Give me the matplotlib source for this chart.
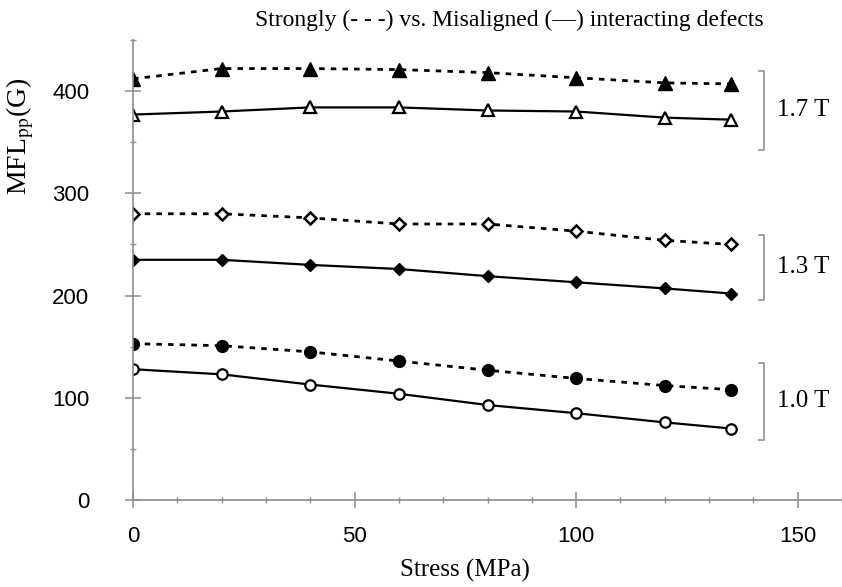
import matplotlib.pyplot as plt
from matplotlib.ticker import MultipleLocator

# -------- Data --------
stress = [0, 20, 40, 60, 80, 100, 120, 135]

strong_17 = [412, 422, 422, 421, 418, 413, 408, 407]
misal_17 = [377, 380, 384, 384, 381, 380, 374, 372]
strong_13 = [280, 280, 276, 270, 270, 263, 254, 250]
misal_13 = [235, 235, 230, 226, 219, 213, 207, 202]
strong_10 = [153, 151, 145, 136, 127, 119, 112, 108]
misal_10 = [128, 123, 113, 104, 93, 85, 76, 70]

field_labels = ["1.7 T", "1.3 T", "1.0 T"]

SERIF = "Liberation Serif"
SANS = "Liberation Sans"
plt.rcParams["mathtext.fontset"] = "stix"

fig = plt.figure(figsize=(8.42, 5.87), dpi=100)
ax = fig.add_axes([0.158, 0.148, 0.842, 0.784])

dash = dict(color="black", lw=2.0, dashes=(2, 2.2))
solid = dict(color="black", lw=1.6, linestyle="-")

# strongly interacting (dashed)
ax.plot(stress, strong_17, marker="^", ms=10.5, mfc="black", mec="black", **dash)
ax.plot(stress, strong_13, marker="D", ms=6.5, mfc="white", mec="black", mew=1.8, **dash)
ax.plot(stress, strong_10, marker="o", ms=8.5, mfc="black", mec="black", **dash)

# misaligned (solid)
ax.plot(stress, misal_17, marker="^", ms=9, mfc="white", mec="black", mew=1.6, **solid)
ax.plot(stress, misal_13, marker="D", ms=6.5, mfc="black", mec="black", **solid)
ax.plot(stress, misal_10, marker="o", ms=7.5, mfc="white", mec="black", mew=1.6, **solid)

ax.set_xlim(0, 160)
ax.set_ylim(0, 450)
ax.xaxis.set_major_locator(MultipleLocator(50))
ax.xaxis.set_minor_locator(MultipleLocator(10))
ax.yaxis.set_major_locator(MultipleLocator(100))
ax.yaxis.set_minor_locator(MultipleLocator(50))

for s in ["top", "right"]:
    ax.spines[s].set_visible(False)
for s in ["left", "bottom"]:
    ax.spines[s].set_color("#8c8c8c")
    ax.spines[s].set_linewidth(1.2)
ax.tick_params(which="major", direction="inout", length=11, width=1.1, color="#8c8c8c",
               labelsize=16)
ax.tick_params(which="minor", direction="inout", length=5, width=1.0, color="#8c8c8c")
ax.tick_params(axis="x", which="major", pad=13)
ax.tick_params(axis="y", which="major", pad=26)
for lab in ax.get_xticklabels() + ax.get_yticklabels():
    lab.set_fontfamily(SANS)

ax.set_xlabel("Stress (MPa)", fontfamily=SERIF, fontsize=18)
ax.xaxis.set_label_coords(0.468, -0.127)
ax.set_ylabel(r"MFL$_{\mathrm{pp}}$(G)", fontfamily=SERIF, fontsize=20)
ax.yaxis.set_label_coords(-0.137, 0.79)

fig.text(0.605, 0.966, "Strongly (- - -) vs. Misaligned (\u2014) interacting defects",
         fontfamily=SERIF, fontsize=17, ha="center", va="center")

# brackets with field labels
brackets = [(420, 342), (259, 196), (134, 59)]
for (top, bot), lab in zip(brackets, field_labels):
    ax.plot([141.2, 142.4, 142.4, 141.2], [top, top, bot, bot], color="#9a9a9a",
            lw=1.3, clip_on=False)
    ax.text(145.3, (top + bot) / 2, lab, fontfamily=SERIF, fontsize=18,
            va="center", ha="left")

fig.savefig("out.png", dpi=100)
